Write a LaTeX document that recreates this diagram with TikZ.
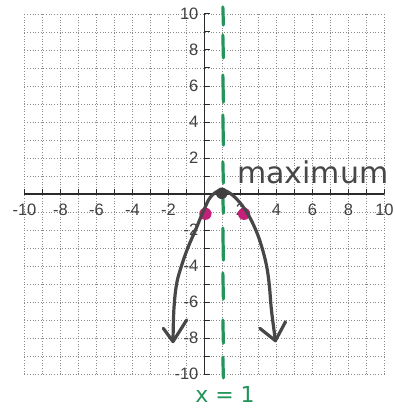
\documentclass[tikz,border=0pt]{standalone}
\usepackage{fontspec}
\setmainfont{Liberation Sans}
\newfontfamily\handfont{DejaVu Sans}
\definecolor{axisc}{HTML}{2B2B2B}
\definecolor{gridc}{HTML}{8A8A8A}
\definecolor{curvec}{HTML}{474747}
\definecolor{dashg}{HTML}{23955A}
\definecolor{dotm}{HTML}{C4207A}
\begin{document}
\begin{tikzpicture}[x=18pt,y=18pt,
  gridline/.style={gridc, dotted, line width=0.7pt},
  axisline/.style={axisc, line width=1.3pt},
  tickmark/.style={axisc, line width=1pt},
  ticklabel/.style={text=black!75, font=\fontsize{16.5}{16.5}\selectfont, inner sep=0pt},
  curveline/.style={curvec, line width=3.2pt, line cap=round, line join=round},
  symdash/.style={dashg, line width=3.2pt, line cap=round},
  pointdot/.style={fill=dotm},
  vertexdot/.style={fill=curvec!90!black},
  handlabel/.style={inner sep=0pt, font=\handfont\fontsize{30}{30}\selectfont}]
\useasboundingbox (-11.361,-12) rectangle (10.528,10.778);
\fill[white] (-11.361,-12) rectangle (10.528,10.778);
% grid
\foreach \i in {-10,...,10} {
  \draw[gridline] (\i,-10) -- (\i,10);
  \draw[gridline] (-10,\i) -- (10,\i);
}
% axes
\draw[axisline] (-10,0) -- (10,0);
\draw[axisline] (0,-10) -- (0,10);
\foreach \i in {-10,...,10} {
  \draw[tickmark] (\i,0) -- (\i,0.28);
  \draw[tickmark] (0,\i) -- (0.28,\i);
}
\foreach \i in {-10,-8,-6,-4,-2,2,4,6,8,10} {
  \node[ticklabel] at (\i,-0.89) {\i};
  \node[ticklabel, anchor=east] at (-0.33,\i) {\i};
}
% axis of symmetry
\foreach \a/\b in {10.39/9.39, 8.83/7.56, 6.61/5.11, 4.39/2.72, 1.78/0.61, -0.22/-1.06, -1.89/-3.67, -4.39/-5.83, -7.0/-8.28, -9.06/-10.22}
  \draw[symdash] (1.02,\a) -- (1.05,\b);
% points
\fill[pointdot] (0.05,-1.1) circle (0.34);
\fill[pointdot] (2.2,-1.1) circle (0.34);
% parabola
\coordinate (ltip) at (-1.75,-8.2);
\coordinate (rtip) at (3.94,-8.15);
\coordinate (la1) at (-2.29,-7.46);
\coordinate (la2) at (-0.99,-7.0);
\coordinate (ra1) at (3.07,-7.46);
\coordinate (ra2) at (4.5,-7.1);
\draw[curveline] plot[smooth, tension=0.6] coordinates {(-1.75,-8.2) (-1.7,-6.4) (-1.55,-5) (-1.28,-4) (-0.93,-3) (-0.5,-2) (-0.05,-0.93) (0.35,-0.15) (0.95,0.22) (1.6,-0.1) (2.3,-0.93) (2.85,-2) (3.2,-3) (3.45,-4) (3.6,-5.05) (3.72,-6.45) (3.94,-8.15)};
\draw[curveline] (la1) -- (ltip) -- (la2);
\draw[curveline] (ra1) -- (rtip) -- (ra2);
% vertex
\fill[vertexdot] (0.96,0.04) circle (0.32);
% labels
\node[handlabel, anchor=base west, text=curvec] (maxlabel) at (1.8,0.6) {maximum};
\node[handlabel, anchor=base, text=dashg, font=\handfont\fontsize{22}{22}\selectfont] (axlabel) at (1.14,-11.6) {x = 1};
\end{tikzpicture}
\end{document}
